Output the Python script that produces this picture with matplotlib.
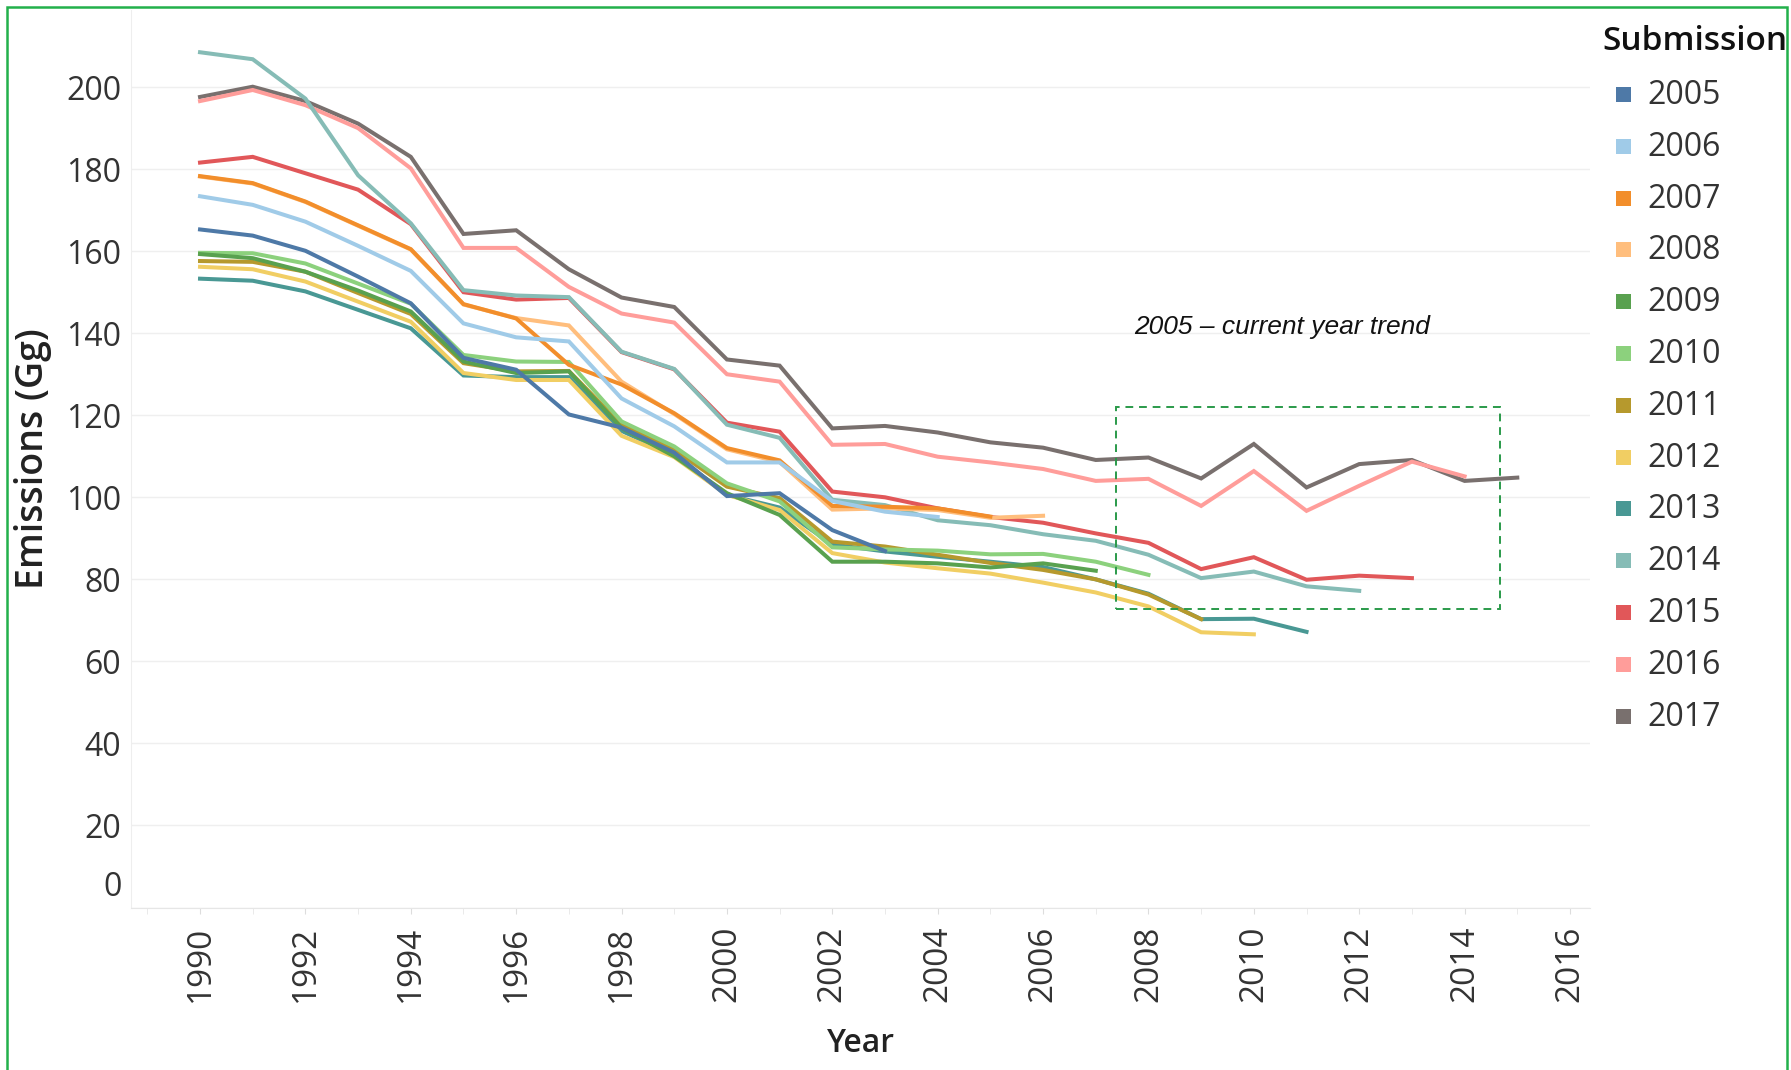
import matplotlib
matplotlib.use("Agg")
import matplotlib.pyplot as plt
import matplotlib.patches as mpatches
import matplotlib.transforms as mtransforms

# ========== 数据 ==========
START_YEAR = 1990
submissions = ["2005", "2006", "2007", "2008", "2009", "2010", "2011",
               "2012", "2013", "2014", "2015", "2016", "2017"]

s2005 = [165.3, 163.8, 160.1, 153.8, 147.3, 134.0, 131.1, 120.2, 117.0, 110.9, 100.3, 101.0, 92.0, 86.9]
s2006 = [173.4, 171.3, 167.2, 161.3, 155.2, 142.4, 139.0, 138.0, 124.1, 117.3, 108.5, 108.5, 99.1, 96.5, 95.2]
s2007 = [178.3, 176.6, 172.1, 166.3, 160.5, 147.1, 143.6, 132.3, 127.5, 120.5, 112.0, 109.0, 97.9, 97.7, 97.3, 95.3]
s2008 = [178.2, 176.5, 172.0, 166.2, 160.4, 147.0, 143.7, 141.9, 128.2, 120.3, 111.7, 108.6, 97.0, 97.3, 96.9,
         95.0, 95.5]
s2009 = [159.3, 158.3, 155.0, 150.4, 145.3, 133.1, 130.3, 130.7, 116.9, 110.0, 101.0, 95.7, 84.3, 84.3, 83.9,
         82.9, 83.9, 82.1]
s2010 = [159.6, 159.5, 157.0, 152.1, 147.2, 134.7, 133.1, 133.0, 118.5, 112.4, 103.4, 99.0, 87.8, 87.3, 87.0,
         86.1, 86.2, 84.3, 81.1]
s2011 = [157.6, 157.4, 155.0, 149.8, 144.7, 132.7, 130.7, 130.8, 117.7, 111.6, 102.6, 99.8, 89.2, 88.0, 86.0,
         84.0, 82.3, 80.0, 76.3, 70.3]
s2012 = [156.2, 155.6, 152.6, 147.7, 142.8, 130.3, 128.6, 128.6, 115.0, 109.8, 100.6, 96.9, 86.4, 84.1, 82.7,
         81.4, 79.2, 76.8, 73.4, 67.1, 66.6]
s2013 = [153.3, 152.8, 150.2, 145.7, 141.2, 129.7, 129.3, 129.3, 116.2, 110.3, 100.6, 97.5, 88.5, 86.8, 85.5,
         84.3, 83.0, 80.0, 76.5, 70.3, 70.4, 67.2]
s2014 = [208.5, 206.8, 197.2, 178.5, 166.8, 150.5, 149.2, 148.8, 135.5, 131.3, 117.7, 114.5, 99.4, 98.1, 94.4,
         93.2, 91.0, 89.4, 86.0, 80.3, 81.9, 78.3, 77.2]
s2015 = [181.6, 183.0, 179.0, 175.0, 166.6, 150.0, 148.2, 148.6, 135.4, 131.2, 118.2, 116.0, 101.4, 100.0, 97.3,
         95.2, 93.8, 91.2, 88.9, 82.5, 85.4, 79.9, 80.9, 80.3]
s2016 = [196.6, 199.3, 195.6, 190.0, 180.2, 160.8, 160.8, 151.3, 144.8, 142.6, 130.0, 128.2, 112.8, 113.0, 109.9,
         108.5, 106.9, 104.0, 104.5, 97.9, 106.4, 96.7, 102.8, 108.7, 105.1]
s2017 = [197.6, 200.1, 196.6, 191.1, 183.0, 164.2, 165.1, 155.6, 148.7, 146.4, 133.6, 132.1, 116.8, 117.4, 115.8,
         113.4, 112.1, 109.1, 109.7, 104.6, 113.0, 102.4, 108.1, 109.1, 104.0, 104.8]

series = [s2005, s2006, s2007, s2008, s2009, s2010, s2011, s2012, s2013, s2014, s2015, s2016, s2017]

# Tableau 20 配色
colors = ["#4E79A7", "#A0CBE8", "#F28E2B", "#FFBE7D", "#59A14F", "#8CD17D", "#B6992D",
          "#F1CE63", "#499894", "#86BCB6", "#E15759", "#FF9D9A", "#79706E"]

y_ticks = [0, 20, 40, 60, 80, 100, 120, 140, 160, 180, 200]
x_ticks = list(range(1990, 2017, 2))

# 2005 – 当前年份 趋势框（数据坐标）
trend_box = (2007.38, 72.8, 2014.67, 122.0)

# ========== 绘图 ==========
W, H = 1791, 1070
fig = plt.figure(figsize=(W / 100, H / 100), dpi=100)
plt.rcParams["font.family"] = ["Open Sans", "DejaVu Sans"]

ax = fig.add_axes([131 / W, 1 - 907.5 / H, (1590 - 131) / W, (907.5 - 10) / H])

n = len(series)
for i, (name, vals, c) in enumerate(zip(submissions, series, colors)):
    years = list(range(START_YEAR, START_YEAR + len(vals)))
    ax.plot(years, vals, color=c, linewidth=2.9, solid_joinstyle="miter",
            zorder=10 + n - i, label=name)

ax.set_xlim(1988.69, 2016.38)
ax.set_ylim(0, 218.8)

ax.set_yticks(y_ticks)
ax.set_yticklabels([str(v) for v in y_ticks])
ax.set_xticks(x_ticks)
ax.set_xticklabels([str(v) for v in x_ticks], rotation=90)
ax.set_xticks(range(1989, 2017), minor=True)

ax.tick_params(axis="y", length=0, pad=7, labelsize=23, labelcolor="#333333")
ax.tick_params(axis="x", which="major", length=4, pad=9, labelsize=24,
               labelcolor="#333333", color="#dddddd")
ax.tick_params(axis="x", which="minor", length=4, color="#e6e6e6")

# "0" 标签在 Tableau 中略向上偏移
offset = mtransforms.ScaledTranslation(0, 24 / 100, fig.dpi_scale_trans)
for lbl in ax.get_yticklabels():
    if lbl.get_text() == "0":
        lbl.set_transform(lbl.get_transform() + offset)

ax.grid(axis="y", color="#efefef", linewidth=1.0)
ax.set_axisbelow(True)
for side in ["top", "right"]:
    ax.spines[side].set_visible(False)
ax.spines["left"].set_color("#eeeeee")
ax.spines["bottom"].set_color("#e6e6e6")

ax.set_xlabel("Year", fontsize=23, fontweight="semibold", color="#222222", labelpad=18)
ax.set_ylabel("Emissions (Gg)", fontsize=27, fontweight="semibold", color="#222222", labelpad=10)

# 趋势虚线框 + 标注
x0, y0, x1, y1 = trend_box
ax.add_patch(mpatches.Rectangle((x0, y0), x1 - x0, y1 - y0, fill=False,
                                edgecolor="#2A9A4A", linewidth=1.4,
                                linestyle=(0, (4, 3)), zorder=40))
ax.text(2007.72, 141.6, "2005 – current year trend", fontsize=19, style="italic",
        family=["Liberation Sans", "DejaVu Sans"], color="#111111", va="center", zorder=41)

# 图例（手动）
fig.text(1602 / W, 1 - 41 / H, "Submission", fontsize=24, fontweight="semibold",
         color="#111111", va="center", ha="left")
for i, (name, c) in enumerate(zip(submissions, colors)):
    yc = 94.5 + 51.8 * i
    fig.patches.append(mpatches.Rectangle(((1623 - 7.5) / W, 1 - (yc + 7.5) / H), 15 / W, 15 / H,
                                          transform=fig.transFigure, facecolor=c,
                                          edgecolor="none"))
    fig.text(1647 / W, 1 - (yc + 1) / H, name, fontsize=23, color="#333333",
             va="center", ha="left")

# 外框（绿色）
fig.patches.append(mpatches.Rectangle((7 / W, -0.05), (1787 - 7) / W, 1.05 - 7 / H,
                                      transform=fig.transFigure, fill=False,
                                      edgecolor="#22B04B", linewidth=1.8))

fig.savefig("out.png", dpi=100)
plt.close(fig)
